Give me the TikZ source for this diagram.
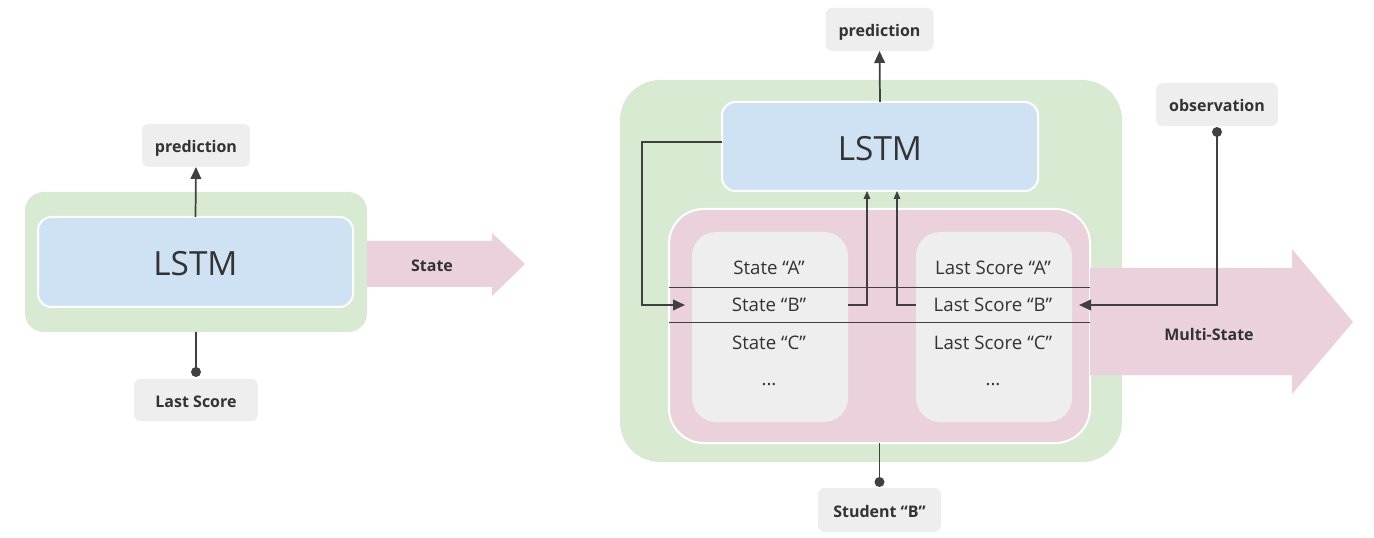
\documentclass[tikz,border=0pt]{standalone}
\usepackage{fontspec}
\setmainfont{Open Sans}
\usetikzlibrary{arrows.meta}

\definecolor{boxgreen}{HTML}{D9EAD3}
\definecolor{boxblue}{HTML}{CFE2F3}
\definecolor{boxpink}{HTML}{EAD1DC}
\definecolor{boxgray}{HTML}{EEEEEE}
\definecolor{ink}{HTML}{333333}
\definecolor{wirecol}{HTML}{404040}

\begin{document}
\begin{tikzpicture}[x=0.75pt, y=-0.75pt,
   box/.style={rectangle, inner sep=0pt, outer sep=0pt},
   lbl/.style={box, fill=boxgray, rounded corners=5pt, text=ink, text height=11pt, text depth=0pt,
      font=\fontsize{12}{14}\selectfont\bfseries},
   cell/.style={text=ink, font=\fontsize{14}{16}\selectfont},
   lstm/.style={box, fill=boxblue, draw=white, line width=1.5pt, text height=20.85pt, text depth=0pt,
      rounded corners=10pt, text=ink, font=\fontsize{25}{30}\selectfont},
   wire/.style={draw=wirecol, line width=1.3pt, -{Triangle[length=9pt,width=8pt]}},
   thinwire/.style={draw=wirecol, line width=0.8pt, -{Triangle[length=6pt,width=5pt]}},
   sepline/.style={draw=wirecol, line width=0.6pt}]
   \useasboundingbox (0,0) rectangle (1374,538);

   % left: single LSTM
   \node[box, fill=boxgreen, rounded corners=14pt, minimum width=256.5pt, minimum height=105pt] (greenL) at (196,262) {};
   \node[lstm, minimum width=236.25pt, minimum height=67.5pt] (blueL) at (195.5,262) {LSTM};
   \node[lbl, minimum width=81pt, minimum height=32.25pt] (predL) at (196,145.5) {prediction};
   \node[lbl, minimum width=93pt, minimum height=31.5pt] (lastL) at (196,400) {Last Score};
   \fill[boxpink] (367,241) -- (492,241) -- (492,233) -- (525,264) -- (492,296) -- (492,287) -- (367,287) -- cycle;
   \node[lbl, fill=none] (stateL) at (432,264) {State};
   \coordinate (dotL) at ([yshift=5.25pt]lastL.north);
   \draw[wire] (blueL.north) -- (predL.south);
   \draw[draw=wirecol, line width=1.3pt] (greenL.south) -- (dotL);
   \fill[wirecol] (dotL) circle[radius=3.75pt];

   % right: multi-state LSTM
   \node[box, fill=boxgreen, rounded corners=30pt, minimum width=376.5pt, minimum height=286.5pt] (greenR) at (871,271) {};
   \node[lstm, minimum width=237pt, minimum height=66.75pt] (lstmR) at (880,146.5) {LSTM};
   \node[box, fill=boxpink, draw=white, line width=1.5pt, rounded corners=26pt, minimum width=315.75pt, minimum height=175.5pt] (pinkR) at (879.5,326) {};
   \node[box, fill=boxgray, rounded corners=18pt, minimum width=117pt, minimum height=142.5pt] (colA) at (770,327) {};
   \node[box, fill=boxgray, rounded corners=18pt, minimum width=117pt, minimum height=142.5pt] (colB) at (994,327) {};
   \draw[sepline] (pinkR.west |- 0,287) -- (pinkR.east |- 0,287);
   \draw[sepline] (pinkR.west |- 0,322) -- (pinkR.east |- 0,322);
   \node[cell] (sA) at (769,268) {State “A”};
   \node[cell] (sB) at (769,305) {State “B”};
   \node[cell] (sC) at (769,343) {State “C”};
   \node[cell] (sD) at (769,385) {...};
   \node[cell] (lA) at (993,268) {Last Score “A”};
   \node[cell] (lB) at (993,305) {Last Score “B”};
   \node[cell] (lC) at (993,343) {Last Score “C”};
   \node[cell] (lD) at (993,385) {...};
   \fill[boxpink] (pinkR.east |- 0,268) -- (1292,268) -- (1292,249) -- (1353,322) -- (1292,394) -- (1292,375) -- (pinkR.east |- 0,375) -- cycle;
   \node[lbl, fill=none] (multi) at (1209,333) {Multi-State};
   \node[lbl, minimum width=81pt, minimum height=32.25pt] (predR) at (879.5,29.5) {prediction};
   \node[lbl, minimum width=91.5pt, minimum height=32.25pt] (obs) at (1217,104.5) {observation};
   \node[lbl, minimum width=92.25pt, minimum height=33pt] (stuB) at (879.5,510) {Student “B”};
   \coordinate (fb) at (642,142);
   \coordinate (inA) at ([xshift=-5.25pt]colA.west |- sB);
   \coordinate (inB) at ([xshift=-8.25pt]pinkR.east |- lB);
   \coordinate (dotO) at ([yshift=-4.5pt]obs.south);
   \coordinate (dotS) at ([yshift=4.5pt]stuB.north);
   \draw[wire] (lstmR.north) -- (predR.south);
   \draw[wire] (lstmR.west |- fb) -- (fb) |- (inA);
   \draw[thinwire] (colA.east |- sB) -| ([xshift=-9.75pt]lstmR.south);
   \draw[thinwire] (colB.west |- lB) -| ([xshift=12.75pt]lstmR.south);
   \draw[wire] (dotO) |- (inB);
   \fill[wirecol] (dotO) circle[radius=3.75pt];
   \draw[draw=wirecol, line width=1.3pt] (pinkR.south) -- (dotS);
   \fill[wirecol] (dotS) circle[radius=3.75pt];
\end{tikzpicture}
\end{document}
